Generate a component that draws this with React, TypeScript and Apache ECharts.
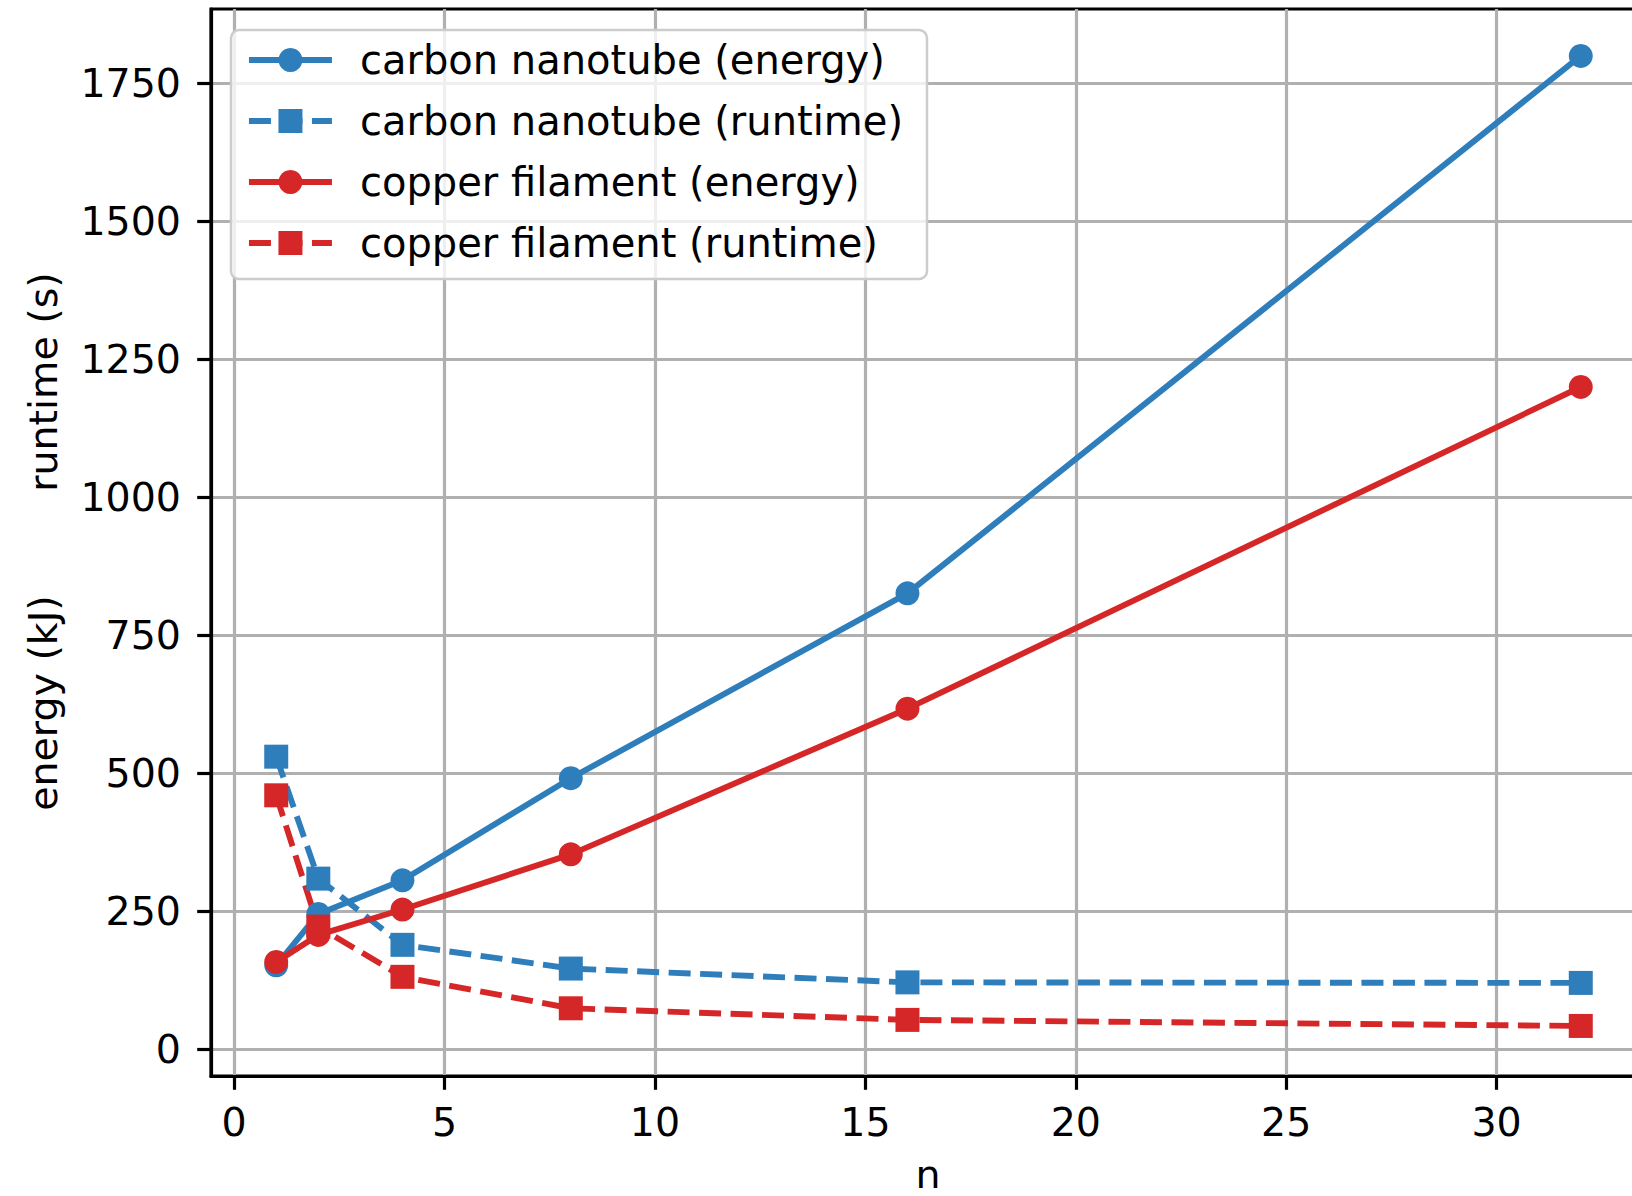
import React, { useEffect, useRef } from "react";
import * as echarts from "echarts";

const nValues = [1, 2, 4, 8, 16, 32];
const carbonEnergy = [152, 245, 306, 491, 826, 1800];
const carbonRuntime = [530, 309, 189, 146, 121, 120];
const copperEnergy = [158, 207, 253, 353, 617, 1200];
const copperRuntime = [460, 222, 131, 74, 53, 42];

const xTicks = [0, 5, 10, 15, 20, 25, 30];
const yTicks = [0, 250, 500, 750, 1000, 1250, 1500, 1750];

const seriesNames = [
  "carbon nanotube (energy)",
  "carbon nanotube (runtime)",
  "copper filament (energy)",
  "copper filament (runtime)",
];

const BLUE = "#2f7ebc";
const RED = "#d62728";
const FONT = "DejaVu Sans";
const FS = 39.5;
const LW = 5.9;
const DASH = [22, 9.5];

function pairs(ys: number[]) {
  return nValues.map((x, i) => [x, ys[i]]);
}

export default function App() {
  const ref = useRef<HTMLDivElement>(null);
  useEffect(() => {
    document.body.style.margin = "0";
    const chart = echarts.init(ref.current!, null, { renderer: "svg" });
    const mk = (name: string, data: number[], color: string, dashed: boolean, symbol: string) => ({
      name,
      type: "line",
      data: pairs(data),
      symbol,
      symbolSize: 24,
      showSymbol: true,
      itemStyle: { color },
      lineStyle: { color, width: LW, type: dashed ? DASH : "solid" },
      emphasis: { disabled: true },
    });
    chart.setOption({
      animation: false,
      backgroundColor: "#ffffff",
      textStyle: { fontFamily: FONT },
      grid: {
        left: 211,
        top: 9,
        width: 1435,
        height: 1067,
        outerBoundsMode: "none",
        containLabel: false,
        show: true,
        borderColor: "#000",
        borderWidth: 3.2,
        backgroundColor: "transparent",
      },
      legend: {
        orient: "vertical",
        left: 231,
        top: 30,
        padding: [10, 24, 16, 15],
        itemGap: 21,
        itemWidth: 83,
        itemHeight: 30,
        backgroundColor: "rgba(255,255,255,0.8)",
        borderColor: "#cccccc",
        borderWidth: 2.5,
        borderRadius: 8,
        data: seriesNames,
        lineStyle: { width: LW },
        textStyle: {
          fontFamily: FONT,
          fontSize: 40,
          color: "#000",
          lineHeight: 40,
          padding: [0, 0, 0, 23],
        },
      },
      xAxis: {
        type: "value",
        min: -0.55,
        max: 33.55,
        axisLine: { show: true, onZero: false, lineStyle: { color: "#000", width: 3.2 } },
        axisTick: { show: true, length: 13.8, lineStyle: { color: "#000", width: 3.2 }, customValues: xTicks },
        axisLabel: {
          fontFamily: FONT,
          fontSize: FS,
          color: "#000",
          margin: 26,
          customValues: xTicks,
          formatter: (v: number) => String(v),
        },
        splitLine: { show: true, lineStyle: { color: "#b0b0b0", width: 3.2 } },
      },
      yAxis: {
        type: "value",
        min: -48.7,
        max: 1885,
        axisLine: { show: true, onZero: false, lineStyle: { color: "#000", width: 3.2 } },
        axisTick: { show: true, length: 13.8, lineStyle: { color: "#000", width: 3.2 }, customValues: yTicks },
        axisLabel: {
          fontFamily: FONT,
          fontSize: FS,
          color: "#000",
          margin: 30,
          customValues: yTicks,
          formatter: (v: number) => String(v),
        },
        splitLine: { show: true, lineStyle: { color: "#b0b0b0", width: 3.2 } },
      },
      graphic: [
        {
          type: "text",
          x: 43,
          y: 382,
          rotation: Math.PI / 2,
          style: { text: "runtime (s)", font: `${FS}px ${FONT}`, fill: "#000", align: "center", verticalAlign: "middle" },
        },
        {
          type: "text",
          x: 43,
          y: 703,
          rotation: Math.PI / 2,
          style: { text: "energy (kJ)", font: `${FS}px ${FONT}`, fill: "#000", align: "center", verticalAlign: "middle" },
        },
        {
          type: "text",
          x: 928,
          y: 1174,
          style: {
            text: "n",
            font: `${FS}px ${FONT}`,
            fill: "#000",
            align: "center",
            verticalAlign: "middle",
            lineHeight: 36,
          },
        },
      ],
      series: [
        mk(seriesNames[0], carbonEnergy, BLUE, false, "circle"),
        mk(seriesNames[1], carbonRuntime, BLUE, true, "rect"),
        mk(seriesNames[2], copperEnergy, RED, false, "circle"),
        mk(seriesNames[3], copperRuntime, RED, true, "rect"),
      ],
    });
    return () => chart.dispose();
  }, []);
  return (
    <div
      ref={ref}
      style={{ position: "absolute", left: 0, top: 0, width: 1632, height: 1196, background: "#fff" }}
    />
  );
}
